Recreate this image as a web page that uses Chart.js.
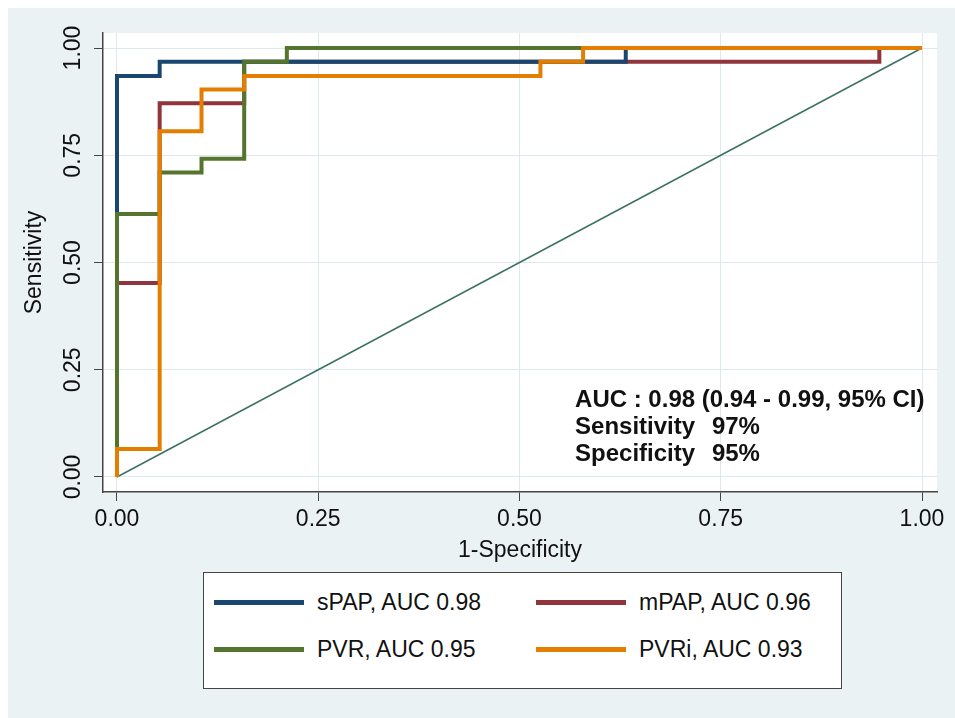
<!DOCTYPE html>
<html>
<head>
<meta charset="utf-8">
<script src="https://cdn.jsdelivr.net/npm/chart.js@4.4.0/dist/chart.umd.js"></script>
<style>
    html, body { margin: 0; padding: 0; background: #fff; }
    body { width: 955px; height: 718px; position: relative; overflow: hidden; font-family: 'Liberation Sans', Arial, sans-serif; }
    #panel { position: absolute; left: 8px; top: 8px; right: 0; bottom: 0; background: #eaf2f3; }
    #roc { position: absolute; left: 0; top: 0; }
    #legend { position: absolute; left: 203px; top: 572px; width: 637px; height: 115px; background: #fff; border: 1.5px solid #444; }
    .lg-item { position: absolute; height: 26px; display: flex; align-items: center; font-size: 23px; color: #111; white-space: nowrap; }
    .lg-swatch { width: 90px; height: 5px; margin-right: 13px; }
</style>
</head>
<body>
<div id="panel"></div>
<canvas id="roc" width="955" height="718"></canvas>
<div id="legend"></div>
<script>
// 1-specificity / sensitivity pairs (step corners)
const seriesNames = ['sPAP, AUC 0.98', 'mPAP, AUC 0.96', 'PVR, AUC 0.95', 'PVRi, AUC 0.93'];
const seriesColors = ['#1a476f', '#90353b', '#55752f', '#e37e00'];
const sPapX = [0, 0, 0.053, 0.632, 1];
const sPapY = [0, 0.935, 0.968, 1, 1];
const mPapX = [0, 0, 0.053, 0.158, 0.947, 1];
const mPapY = [0, 0.452, 0.871, 0.968, 1, 1];
const pvrX = [0, 0, 0.053, 0.105, 0.158, 0.211, 1];
const pvrY = [0, 0.613, 0.710, 0.742, 0.968, 1, 1];
const pvriX = [0, 0, 0.053, 0.105, 0.158, 0.526, 0.579, 1];
const pvriY = [0, 0.065, 0.806, 0.903, 0.935, 0.968, 1, 1];
const refX = [0, 1];
const refY = [0, 1];
const axisTicks = [0, 0.25, 0.5, 0.75, 1];
const annotLabels = ['AUC : 0.98 (0.94 - 0.99, 95% CI)', 'Sensitivity', 'Specificity'];
const annotValues = ['', '97%', '95%'];

Chart.defaults.font.family = "'Liberation Sans', Arial, sans-serif";
Chart.defaults.font.size = 23;
Chart.defaults.color = '#111';

const pts = (xs, ys) => xs.map((x, i) => ({ x, y: ys[i] }));
const curves = [[sPapX, sPapY], [mPapX, mPapY], [pvrX, pvrY], [pvriX, pvriY]];
const drawOrder = [3, 4, 2, 1]; // orange on top, then green, navy, maroon

const datasets = curves.map(([xs, ys], i) => ({
    label: seriesNames[i], data: pts(xs, ys), showLine: true, stepped: 'before',
    borderColor: seriesColors[i], backgroundColor: seriesColors[i], borderWidth: 4,
    borderJoinStyle: 'miter', borderCapStyle: 'butt', pointRadius: 0, order: drawOrder[i],
}));
datasets.push({ label: 'ref', data: pts(refX, refY), showLine: true, borderColor: '#3a7264', borderWidth: 1.5, pointRadius: 0, order: 5 });

const plotBg = {
    id: 'plotBg',
    beforeDraw(c) {
        const { ctx, chartArea: a } = c;
        ctx.save(); ctx.fillStyle = '#fff'; ctx.fillRect(a.left, a.top, a.right - a.left, a.bottom - a.top); ctx.restore();
    },
    afterDraw(c) {
        const { ctx, scales: { x, y } } = c;
        const left = x.getPixelForValue(0.569), col2 = x.getPixelForValue(0.739);
        const base = y.getPixelForValue(0.163);
        ctx.save();
        ctx.font = "bold 24px 'Liberation Sans', Arial, sans-serif";
        ctx.fillStyle = '#111'; ctx.textBaseline = 'alphabetic';
        annotLabels.forEach((t, i) => {
            ctx.fillText(t, left, base + i * 27);
            if (annotValues[i]) ctx.fillText(annotValues[i], col2, base + i * 27);
        });
        ctx.restore();
    },
};

const setTicks = (s) => { s.ticks = axisTicks.map((v) => ({ value: v })); };

new Chart(document.getElementById('roc'), {
    type: 'scatter',
    data: { datasets },
    options: {
        responsive: false, animation: false, devicePixelRatio: 1,
        layout: { padding: { top: 33, right: 18, bottom: 0, left: 0 } },
        plugins: { legend: { display: false }, tooltip: { enabled: false } },
        scales: {
            x: {
                type: 'linear', min: -0.01739, max: 1.01863,
                afterBuildTicks: setTicks, afterFit: (s) => { s.height = 226; },
                ticks: { callback: (v) => v.toFixed(2), padding: 5, maxRotation: 0 },
                grid: { color: '#dde9ec', lineWidth: 1, tickColor: '#444', tickLength: 9 },
                border: { display: true, color: '#444', width: 1.5 },
                title: { display: true, text: '1-Specificity', padding: { top: 0, bottom: 154 }, font: { size: 23 } },
            },
            y: {
                type: 'linear', min: -0.035, max: 1.035,
                afterBuildTicks: setTicks, afterFit: (s) => { s.width = 103; },
                ticks: { callback: (v) => v.toFixed(2), padding: -2, minRotation: 90, maxRotation: 90, crossAlign: 'center' },
                grid: { color: '#dde9ec', lineWidth: 1, tickColor: '#444', tickLength: 9 },
                border: { display: true, color: '#444', width: 1.5 },
                title: { display: true, text: 'Sensitivity', padding: { top: 21, bottom: 0 }, font: { size: 23 } },
            },
        },
    },
    plugins: [plotBg],
});

// legend box, two columns like the reference
const legendPos = [[10, 16], [332, 16], [10, 63], [332, 63]];
document.getElementById('legend').innerHTML = seriesNames.map((n, i) =>
    `<div class="lg-item" style="left:${legendPos[i][0]}px;top:${legendPos[i][1]}px;">
        <div class="lg-swatch" style="background:${seriesColors[i]}"></div>${n}</div>`).join('');
</script>
</body>
</html>
